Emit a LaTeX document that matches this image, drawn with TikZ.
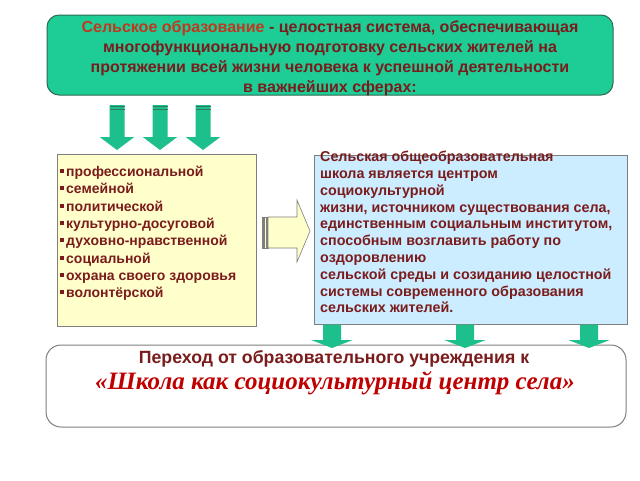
\documentclass[tikz,border=0pt]{standalone}
\usepackage{fontspec}
\setmainfont{Liberation Sans}
\newfontfamily\tnr{Liberation Serif}
\definecolor{boxgreen}{HTML}{1ECC96}
\definecolor{edgegreen}{HTML}{2D6A52}
\definecolor{arrgreen}{HTML}{1DBF8C}
\definecolor{arrdark}{HTML}{2E7A5E}
\definecolor{txtred}{HTML}{7A1C1C}
\definecolor{hired}{HTML}{C0391E}
\definecolor{quotered}{HTML}{C00000}
\definecolor{yfill}{HTML}{FFFFCC}
\definecolor{bfill}{HTML}{CCECFF}
\definecolor{edgegray}{HTML}{7F7F7F}
\tikzset{
  topbox/.style={draw=edgegreen, line width=1pt, fill=boxgreen, rounded corners=12pt, minimum width=566pt, minimum height=80pt, inner sep=0pt},
  ybox/.style={draw=edgegray, line width=0.8pt, fill=yfill, minimum width=199pt, minimum height=172pt, inner sep=0pt},
  bbox/.style={draw=edgegray, line width=0.8pt, fill=bfill, minimum width=313pt, minimum height=169pt, inner sep=0pt},
  botbox/.style={draw=edgegray, line width=1pt, fill=white, rounded corners=15pt, minimum width=580pt, minimum height=82pt, inner sep=0pt},
  txt/.style={text=txtred, font=\bfseries\fontsize{14}{17.3}\selectfont, inner sep=0pt},
}
\newcommand\grnarrow[5]{% x, ytop, yhead, ytip, shaft half-width
  \fill[arrgreen] (#1-#5,#2) -- (#1+#5,#2) -- (#1+#5,#3) -- (#1+2.3*#5,#3) -- (#1,#4) -- (#1-2.3*#5,#3) -- (#1-#5,#3) -- cycle;
}
\newcommand\ybullet{\raisebox{0.25em}{\color{txtred}\rule{4pt}{4pt}}\hspace{2pt}}
\begin{document}
\begin{tikzpicture}[x=1pt,y=-1pt]
\useasboundingbox (0,0) rectangle (640,480);
\fill[white] (0,0) rectangle (640,480);
% top box
\node[topbox] (top) at (330,55) {};
\node[text=txtred, font=\bfseries\fontsize{16}{20}\selectfont, align=center, inner sep=0pt] (toptext) at (330,58.5)
{\textcolor{hired}{Сельское образование} - целостная система, обеспечивающая\\
многофункциональную подготовку сельских жителей на\\
протяжении всей жизни человека к успешной деятельности\\
в важнейших сферах:};
% three top arrows
\foreach \cx/\nm in {117/a1,160/a2,203/a3}{
  \coordinate (\nm) at (\cx,105);
  \grnarrow{\cx}{105}{137}{150}{7.5}
  \fill[arrdark] (\cx-7.5,105.5) rectangle (\cx+7.5,107);
  \fill[arrdark] (\cx-7.5,108.5) rectangle (\cx+7.5,110);
}
% yellow box
\node[ybox] (ybx) at (156.5,240) {};
\node[txt, anchor=north west, align=left] (ytext) at (60,166)
{\ybullet профессиональной\\
\ybullet семейной\\
\ybullet политической\\
\ybullet культурно-досуговой\\
\ybullet духовно-нравственной\\
\ybullet социальной\\
\ybullet охрана своего здоровья\\
\ybullet волонтёрской};
% right arrow
\coordinate (rtip) at (310,231);
\foreach \xa/\xb in {262/263.5,264.5/266,267/268}{
  \filldraw[fill=yfill, draw=edgegray, line width=0.6pt] (\xa,217) rectangle (\xb,248);
}
\filldraw[fill=yfill, draw=edgegray, line width=0.6pt] (268,217) -- (297,217) -- (297,200) -- (rtip) -- (297,262) -- (297,248) -- (268,248) -- cycle;
% blue box
\node[bbox] (bbx) at (470.5,239.5) {};
\node[txt, anchor=north west, align=left, font=\bfseries\fontsize{14.3}{16.8}\selectfont] (btext) at (320,151)
{Сельская общеобразовательная\\
школа является центром\\
социокультурной\\
жизни, источником существования села,\\
единственным социальным институтом,\\
способным возглавить работу по\\
оздоровлению\\
сельской среды и созиданию целостной\\
системы современного образования\\
сельских жителей.};
% bottom box
\node[botbox] (bot) at (336,386) {};
% small arrows
\foreach \cx in {332,465,589}{
  \grnarrow{\cx}{324.5}{340}{348}{9}
}
\node[text=txtred, font=\bfseries\fontsize{17.7}{20}\selectfont, inner sep=0pt] (bt1) at (334,359) {Переход от образовательного учреждения к};
\node[text=quotered, font=\tnr\bfseries\itshape\fontsize{25}{28}\selectfont, inner sep=0pt] (bt2) at (335,383) {«Школа как социокультурный центр села»};
\end{tikzpicture}
\end{document}
